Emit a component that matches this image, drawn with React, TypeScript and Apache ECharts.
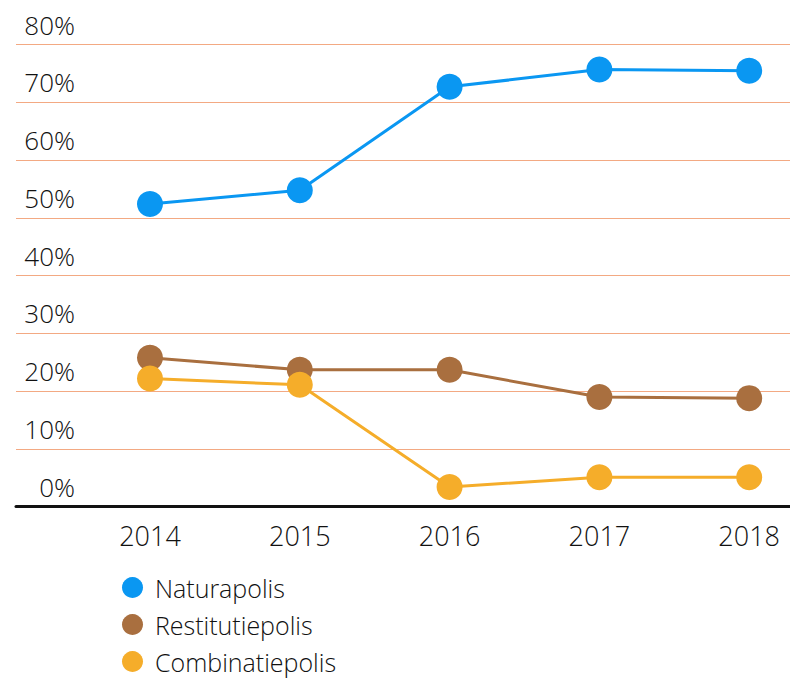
import React, { useEffect, useRef } from "react";
import * as echarts from "echarts";

const years = [2014, 2015, 2016, 2017, 2018];
const naturapolis = [52.4, 54.8, 72.7, 75.7, 75.5];
const restitutiepolis = [25.8, 23.7, 23.7, 19.0, 18.8];
const combinatiepolis = [22.2, 21.1, 3.4, 5.1, 5.1];
const seriesNames = ["Naturapolis", "Restitutiepolis", "Combinatiepolis"];
const seriesColors = ["#0a97f2", "#a96f3f", "#f5ad2a"];

const FONT = "'Open Sans', 'Noto Sans', sans-serif";
const WEIGHT = 300;

export default function App() {
  const ref = useRef<HTMLDivElement>(null);

  useEffect(() => {
    document.body.style.margin = "0";
    if (!ref.current) return;
    const chart = echarts.init(ref.current, null, { renderer: "svg" });
    const values = [naturapolis, restitutiepolis, combinatiepolis];
    chart.setOption({
      animation: false,
      backgroundColor: "#ffffff",
      textStyle: { fontFamily: FONT },
      grid: { left: 16, right: 0, top: 44.7, bottom: 171.3, containLabel: false },
      legend: {
        orient: "vertical",
        left: 122,
        top: 575,
        padding: 0,
        itemWidth: 21,
        itemHeight: 21,
        itemGap: 12,
        icon: "circle",
        selectedMode: false,
        data: seriesNames,
        textStyle: {
          fontFamily: FONT,
          fontWeight: WEIGHT,
          fontSize: 25,
          lineHeight: 25,
          color: "#111111",
          padding: [0, 0, 0, 7],
        },
      },
      xAxis: {
        type: "value",
        min: 2013.1055,
        max: 2018.2724,
        splitLine: { show: false },
        axisTick: { show: false },
        axisLine: { show: true, lineStyle: { color: "#111111", width: 3 } },
        axisLabel: {
          customValues: years,
          formatter: (v: number) => String(Math.round(v)),
          fontFamily: FONT,
          fontWeight: WEIGHT,
          fontSize: 27,
          lineHeight: 27,
          color: "#111111",
          margin: 15,
        },
      },
      yAxis: {
        type: "value",
        min: 0,
        max: 80,
        interval: 10,
        axisLine: { show: false },
        axisTick: { show: false },
        splitLine: { show: true, lineStyle: { color: "#f3a983", width: 1.2 } },
        axisLabel: {
          inside: true,
          margin: 59,
          align: "right",
          verticalAlign: "bottom",
          formatter: "{value}%",
          fontFamily: FONT,
          fontWeight: WEIGHT,
          fontSize: 26,
          lineHeight: 26,
          color: "#111111",
          padding: [0, 0, 7, 0],
        },
      },
      series: values.map((vals, i) => ({
        name: seriesNames[i],
        type: "line",
        data: years.map((y, j) => [y, vals[j]]),
        symbol: "circle",
        symbolSize: 26,
        showAllSymbol: true,
        lineStyle: { width: 3, color: seriesColors[i] },
        itemStyle: { color: seriesColors[i] },
        emphasis: { disabled: true },
        z: 2 + i,
      })),
    });
    return () => chart.dispose();
  }, []);

  return <div ref={ref} style={{ width: 790, height: 678 }} />;
}
